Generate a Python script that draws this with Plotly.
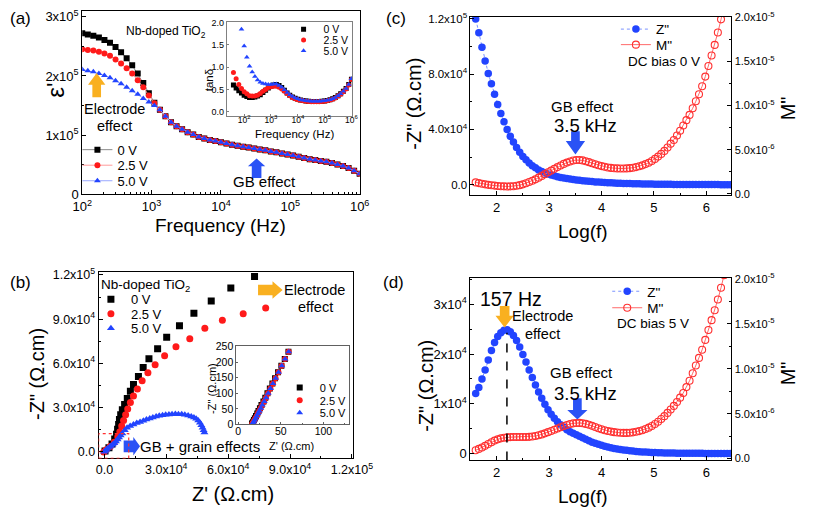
import math
import plotly.graph_objects as go

W, H = 817, 515
FONT = "Liberation Sans, Arial, sans-serif"


def X(p):
    return p / W


def Y(p):
    return 1 - p / H


# ------------------------------------------------------------------ data
# (a) epsilon' (units 1e5) vs log10(f/Hz)
A_LOGF = [2.00, 2.08, 2.16, 2.24, 2.32, 2.40, 2.48, 2.56, 2.64, 2.72, 2.80, 2.88, 2.96, 3.04, 3.12,
          3.20, 3.28, 3.36, 3.44, 3.52, 3.60, 3.68, 3.76, 3.84, 3.92, 4.00, 4.08, 4.16, 4.24, 4.32,
          4.40, 4.48, 4.56, 4.64, 4.72, 4.80, 4.88, 4.96, 5.04, 5.12, 5.20, 5.28, 5.36, 5.44, 5.52,
          5.60, 5.68, 5.76, 5.84, 5.92, 6.00]
A_TAIL = [1.32, 1.22, 1.15, 1.10, 1.05, 1.01, 0.97, 0.945, 0.92, 0.90, 0.88, 0.86, 0.84, 0.82, 0.805,
          0.79, 0.775, 0.76, 0.745, 0.725, 0.71, 0.69, 0.675, 0.655, 0.635, 0.615, 0.595, 0.58, 0.565,
          0.55, 0.53, 0.505, 0.48, 0.445, 0.40, 0.35]
A_EPS_0V = [2.72, 2.70, 2.68, 2.65, 2.61, 2.56, 2.49, 2.40, 2.30, 2.18, 2.04, 1.88, 1.71, 1.55, 1.43] + A_TAIL
A_EPS_25V = [2.45, 2.44, 2.43, 2.41, 2.38, 2.34, 2.28, 2.21, 2.13, 2.04, 1.93, 1.81, 1.67, 1.54, 1.43] + A_TAIL
A_EPS_50V = [2.11, 2.09, 2.07, 2.04, 2.01, 1.97, 1.92, 1.87, 1.81, 1.75, 1.69, 1.62, 1.56, 1.50, 1.43] + A_TAIL

# (a) inset: tan(delta) vs log10(f/Hz)
T_LOGF = [1.6, 1.7, 1.8, 1.9, 2.0, 2.1, 2.2, 2.3, 2.4, 2.5, 2.6, 2.7, 2.8, 2.9, 3.0, 3.1, 3.2, 3.3,
          3.4, 3.5, 3.6, 3.7, 3.8, 3.9, 4.0, 4.1, 4.2, 4.3, 4.4, 4.5, 4.6, 4.7, 4.8, 4.9, 5.0, 5.1,
          5.2, 5.3, 5.4, 5.5, 5.6, 5.7, 5.8, 5.9, 6.0]
T_0V = [0.60, 0.53, 0.47, 0.42, 0.37, 0.34, 0.32, 0.32, 0.33, 0.35, 0.38, 0.43, 0.48, 0.53, 0.57,
        0.60, 0.61, 0.59, 0.54, 0.48, 0.42, 0.37, 0.33, 0.30, 0.28, 0.26, 0.25, 0.24, 0.235, 0.23,
        0.23, 0.23, 0.23, 0.235, 0.24, 0.25, 0.27, 0.29, 0.32, 0.36, 0.40, 0.46, 0.52, 0.61, 0.73]
T_25V = [0.88, 0.74, 0.61, 0.52, 0.45, 0.40, 0.36, 0.35, 0.35, 0.37, 0.41, 0.46, 0.50, 0.54, 0.56,
         0.57, 0.57, 0.55, 0.51, 0.46, 0.41, 0.36, 0.32, 0.29, 0.27, 0.255, 0.245, 0.235, 0.23, 0.225,
         0.225, 0.225, 0.225, 0.23, 0.235, 0.245, 0.26, 0.28, 0.31, 0.35, 0.39, 0.45, 0.51, 0.60, 0.72]
T_50V = [None, None, None, 1.85, 1.47, 1.22, 1.02, 0.89, 0.79, 0.71, 0.66, 0.63, 0.62, 0.61, 0.61,
         0.62, 0.62, 0.59, 0.55, 0.49, 0.43, 0.38, 0.34, 0.31, 0.29, 0.27, 0.255, 0.245, 0.24, 0.235,
         0.235, 0.235, 0.235, 0.24, 0.245, 0.255, 0.27, 0.29, 0.32, 0.36, 0.40, 0.46, 0.52, 0.61, 0.74]

# (b) Nyquist plot, Z' and -Z'' in units of 1e4 ohm.cm
B_0V_X = [0.03, 0.22, 0.37, 0.50, 0.59, 0.64, 0.69, 0.73, 0.79, 0.87, 0.98, 1.11, 1.26, 1.41, 1.65,
          1.88, 2.16, 2.58, 3.02, 3.64, 4.34, 5.18, 6.13, 7.28]
B_0V_Y = [0.05, 0.26, 0.53, 0.86, 1.19, 1.52, 1.85, 2.18, 2.51, 2.84, 3.21, 3.61, 4.11, 4.57, 5.10,
          5.72, 6.31, 6.99, 7.78, 8.55, 9.41, 10.24, 11.12, 11.89]
B_25V_X = [-0.03, 0.09, 0.28, 0.48, 0.65, 0.75, 0.84, 0.93, 1.03, 1.13, 1.26, 1.41, 1.60, 1.83, 2.11,
           2.46, 2.92, 3.47, 4.14, 4.87, 5.72, 6.73, 7.82]
B_25V_Y = [-0.02, 0.13, 0.35, 0.64, 1.01, 1.36, 1.74, 2.11, 2.51, 2.90, 3.34, 3.78, 4.26, 4.81, 5.36,
           5.91, 6.51, 7.12, 7.67, 8.39, 8.92, 9.36, 9.76]
B_50V_X = [0.0, 0.05, 0.09, 0.15, 0.25, 0.33, 0.40, 0.48, 0.56, 0.64, 0.71, 0.79, 0.87, 0.99, 1.10,
           1.25, 1.41, 1.57, 1.73, 1.89, 2.04, 2.20, 2.35, 2.51, 2.66, 2.82, 2.97, 3.13, 3.28, 3.44,
           3.59, 3.75, 3.90, 4.06, 4.21, 4.34, 4.45, 4.55, 4.63, 4.70, 4.76, 4.81, 4.85]
B_50V_Y = [0.0, 0.06, 0.13, 0.21, 0.31, 0.40, 0.48, 0.58, 0.70, 0.83, 0.97, 1.10, 1.23, 1.45, 1.63,
           1.75, 1.85, 1.94, 2.02, 2.10, 2.18, 2.26, 2.33, 2.39, 2.44, 2.48, 2.51, 2.53, 2.55, 2.56,
           2.55, 2.54, 2.51, 2.46, 2.39, 2.32, 2.24, 2.11, 1.96, 1.80, 1.63, 1.46, 1.30]

# (b) inset, ohm.cm
BI_Y = [2, 5, 9, 14, 20, 27, 35, 43, 52, 62, 74, 86, 100, 115, 131, 148, 167, 188, 210, 233]
BI_0V_X = [16.4, 16.9, 17.7, 18.6, 19.7, 21.0, 22.5, 23.9, 25.6, 27.4, 29.7, 31.9, 34.4, 37.2, 40.2,
           43.3, 46.8, 50.7, 54.7, 59.0]
BI_25V_X = [16.6, 17.2, 18.1, 19.1, 20.3, 21.7, 23.2, 24.7, 26.4, 28.2, 30.5, 32.7, 35.1, 37.9, 40.8,
            43.9, 47.3, 51.1, 55.0, 59.2]
BI_50V_X = [16.8, 17.4, 18.3, 19.3, 20.5, 21.9, 23.4, 24.9, 26.6, 28.4, 30.7, 32.9, 35.3, 38.0, 40.9,
            44.0, 47.4, 51.2, 55.1, 59.3]

# (c), (d): -Z'' (units 1e4) and M'' (units 1e-6) vs log(f)
CD_LOGF = [1.60, 1.66, 1.72, 1.78, 1.84, 1.90, 1.96, 2.02, 2.08, 2.14, 2.20, 2.26, 2.32, 2.38, 2.44,
           2.50, 2.56, 2.62, 2.68, 2.74, 2.80, 2.86, 2.92, 2.98, 3.04, 3.10, 3.16, 3.22, 3.28, 3.34,
           3.40, 3.46, 3.52, 3.58, 3.64, 3.70, 3.76, 3.82, 3.88, 3.94, 4.00, 4.06, 4.12, 4.18, 4.24,
           4.30, 4.36, 4.42, 4.48, 4.54, 4.60, 4.66, 4.72, 4.78, 4.84, 4.90, 4.96, 5.02, 5.08, 5.14,
           5.20, 5.26, 5.32, 5.38, 5.44, 5.50, 5.56, 5.62, 5.68, 5.74, 5.80, 5.86, 5.92, 5.98, 6.04,
           6.10, 6.16, 6.22, 6.28, 6.34, 6.40, 6.46]
C_Z = [12.0, 11.0, 9.95, 8.95, 8.05, 7.3, 6.55, 5.8, 5.15, 4.55,
       4.0, 3.5, 3.1, 2.7, 2.35, 2.05, 1.8, 1.58, 1.38, 1.22,
       1.07, 0.95, 0.85, 0.77, 0.70, 0.64, 0.58, 0.53, 0.49, 0.45,
       0.41, 0.38, 0.35, 0.32, 0.29, 0.265, 0.245, 0.225, 0.205, 0.19,
       0.175, 0.16, 0.147, 0.135, 0.124, 0.114, 0.105, 0.096, 0.088, 0.081,
       0.074, 0.068, 0.062, 0.057, 0.052, 0.048, 0.044, 0.040, 0.037, 0.034,
       0.031, 0.028, 0.026, 0.024, 0.022, 0.020, 0.018, 0.017, 0.015, 0.014,
       0.013, 0.012, 0.011, 0.010, 0.009, 0.008, 0.008, 0.007, 0.006, 0.006,
       0.005, 0.005]
C_M = [1.28, 1.2, 1.13, 1.06, 1.0, 0.96, 0.92, 0.88, 0.85, 0.83,
       0.82, 0.83, 0.85, 0.9, 0.97, 1.06, 1.18, 1.32, 1.47, 1.63,
       1.82, 2.02, 2.22, 2.43, 2.62, 2.82, 3.02, 3.2, 3.38, 3.53,
       3.66, 3.76, 3.82, 3.83, 3.78, 3.68, 3.58, 3.46, 3.34, 3.23,
       3.13, 3.05, 2.98, 2.93, 2.89, 2.87, 2.86, 2.86, 2.87, 2.9,
       2.95, 3.02, 3.11, 3.22, 3.36, 3.52, 3.72, 3.95, 4.21, 4.52,
       4.86, 5.25, 5.68, 6.1, 6.6, 7.15, 7.75, 8.35, 8.95, 9.7,
       10.5, 11.3, 12.2, 13.3, 14.5, 15.7, 16.9, 18.3, 19.8, 21.4,
       23.0, 24.7]
D_Z = [1.21, 1.33, 1.50, 1.68, 1.88, 2.07, 2.23, 2.35, 2.43, 2.48,
       2.49, 2.45, 2.37, 2.27, 2.14, 1.99, 1.84, 1.68, 1.53, 1.38,
       1.24, 1.11, 0.99, 0.88, 0.79, 0.71, 0.64, 0.58, 0.53, 0.48,
       0.44, 0.41, 0.38, 0.35, 0.32, 0.29, 0.26, 0.23, 0.21, 0.19,
       0.17, 0.15, 0.135, 0.12, 0.105, 0.093, 0.083, 0.074, 0.066, 0.058,
       0.051, 0.045, 0.040, 0.035, 0.031, 0.027, 0.024, 0.021, 0.019, 0.017,
       0.015, 0.013, 0.012, 0.011, 0.010, 0.009, 0.008, 0.007, 0.007, 0.006,
       0.006, 0.005, 0.005, 0.004, 0.004, 0.004, 0.003, 0.003, 0.003, 0.003,
       0.002, 0.002]
D_M = [0.93, 1.08, 1.24, 1.42, 1.62, 1.82, 2.0, 2.14, 2.25, 2.32,
       2.36, 2.39, 2.4, 2.41, 2.41, 2.41, 2.41, 2.42, 2.45, 2.51,
       2.59, 2.69, 2.81, 2.94, 3.07, 3.21, 3.35, 3.49, 3.62, 3.74,
       3.85, 3.92, 3.96, 3.97, 3.93, 3.86, 3.76, 3.64, 3.51, 3.38,
       3.26, 3.16, 3.07, 3.0, 2.94, 2.9, 2.87, 2.86, 2.86, 2.88,
       2.92, 2.98, 3.06, 3.16, 3.29, 3.44, 3.62, 3.84, 4.1, 4.4,
       4.72, 5.08, 5.46, 5.86, 6.3, 6.78, 7.3, 7.95, 8.65, 9.5,
       10.35, 11.2, 12.1, 13.2, 14.3, 15.4, 16.5, 17.7, 19.0, 20.4,
       21.9, 23.4]
D_PEAK_HZ = 157

SERIES = ["0 V", "2.5 V", "5.0 V"]

# ------------------------------------------------------------------ style
BLACK, RED, BLUE = "#000000", "#FF1A1A", "#2244FF"
ORANGE, ABLUE = "#F9B020", "#2A52F5"
SYM = ["square", "circle", "triangle-up"]
COL = [BLACK, RED, BLUE]
LCOL = ["#8a8a8a", "#FF9a9a", "#9aa8ff"]


def sc(vals, k):
    return [None if v is None else v * k for v in vals]


def f_of(logs):
    return [10 ** v for v in logs]


fig = go.Figure()

legends = {}
lid = [0]


def new_legend(xsym, ycen, size):
    # xsym: pixel x of the legend symbol centre, ycen: pixel y of the entry centre
    lid[0] += 1
    name = "legend" if lid[0] == 1 else "legend%d" % lid[0]
    legends[name] = dict(x=X(xsym - 22), y=Y(ycen), xanchor="left", yanchor="middle",
                         bgcolor="rgba(0,0,0,0)", borderwidth=0, itemwidth=30,
                         font=dict(family=FONT, size=size, color="black"),
                         itemclick=False, itemdoubleclick=False)
    return name


# (a) main
fa = f_of(A_LOGF)
for i, ys in enumerate([A_EPS_0V, A_EPS_25V, A_EPS_50V]):
    fig.add_trace(go.Scatter(
        x=fa, y=sc(ys, 1e5), xaxis="x", yaxis="y", mode="lines+markers", name=SERIES[i],
        marker=dict(symbol=SYM[i], size=6, color=COL[i], line=dict(width=0)),
        line=dict(color=LCOL[i], width=1),
        legend=new_legend(92, [147, 163, 179][i], 13)))

# (a) inset
ft = f_of(T_LOGF)
for i, ys in enumerate([T_0V, T_25V, T_50V]):
    fig.add_trace(go.Scatter(
        x=ft, y=ys, xaxis="x2", yaxis="y2", mode="markers", name=SERIES[i],
        marker=dict(symbol=SYM[i], size=5, color=COL[i], line=dict(width=0)),
        legend=new_legend(306, [23, 34, 45][i], 10.5)))

# (b) main
for i, (xs, ys) in enumerate([(B_0V_X, B_0V_Y), (B_25V_X, B_25V_Y), (B_50V_X, B_50V_Y)]):
    fig.add_trace(go.Scatter(
        x=sc(xs, 1e4), y=sc(ys, 1e4), xaxis="x3", yaxis="y3", mode="markers", name=SERIES[i],
        marker=dict(symbol=SYM[i], size=7, color=COL[i], line=dict(width=0)),
        legend=new_legend(106, [301, 316, 331][i], 13)))

# (b) inset
for i, xs in enumerate([BI_0V_X, BI_25V_X, BI_50V_X]):
    fig.add_trace(go.Scatter(
        x=xs, y=BI_Y, xaxis="x4", yaxis="y4", mode="markers", name=SERIES[i],
        marker=dict(symbol=SYM[i], size=6, color=COL[i], line=dict(width=0)),
        legend=new_legend(302, [392, 405, 418][i], 11)))

# (c), (d)
for (zs, ms, xa, ya, yb, ly, xsym) in [(C_Z, C_M, "x5", "y5", "y6", (23, 39), 651),
                                        (D_Z, D_M, "x6", "y7", "y8", (293, 310), 642)]:
    fig.add_trace(go.Scatter(
        x=CD_LOGF, y=sc(zs, 1e4), xaxis=xa, yaxis=ya, mode="lines+markers", name='Z"',
        marker=dict(symbol="circle", size=7.5, color=BLUE, line=dict(width=0)),
        line=dict(color="#7b93ff", width=1, dash="dot"),
        legend=new_legend(xsym, ly[0], 13.5)))
    fig.add_trace(go.Scatter(
        x=CD_LOGF, y=sc(ms, 1e-6), xaxis=xa, yaxis=yb, mode="lines+markers", name='M"',
        marker=dict(symbol="circle-open", size=7, color="#FF3030", line=dict(width=1.1)),
        line=dict(color="#FF6a6a", width=1),
        legend=new_legend(xsym, ly[1], 13.5)))


# ------------------------------------------------------------------ axes
def ax(domain, rng, size=13, lc="black", **kw):
    d = dict(domain=domain, range=rng, showline=True, linecolor=lc, linewidth=1,
             ticks="inside", ticklen=4, tickwidth=1, tickcolor=lc, showgrid=False,
             zeroline=False, tickfont=dict(family=FONT, size=size, color="black"))
    d.update(kw)
    return d


def sup(m, e):
    return "%sx10<sup>%s</sup>" % (m, e)


DEC = [1e2, 1e3, 1e4, 1e5, 1e6]
DEC_T = ["10<sup>%d</sup>" % n for n in range(2, 7)]
MINOR_LOG = [k * 10 ** n for n in range(1, 6) for k in range(2, 10)]
ZT = ["0.0", sup("3.0", 4), sup("6.0", 4), sup("9.0", 4), sup("1.2", 5)]
MT = ["0.0", sup("5.0", -6), sup("1.0", -5), sup("1.5", -5), sup("2.0", -5)]

layout = dict(
    width=W, height=H, margin=dict(l=0, r=0, t=0, b=0),
    paper_bgcolor="white", plot_bgcolor="white", showlegend=True,
    font=dict(family=FONT, color="black"),
    # (a)
    xaxis=ax([X(75), X(363)], [2, 6], type="log", tickmode="array", tickvals=DEC, ticktext=DEC_T,
             anchor="y", mirror=True,
             minor=dict(ticks="inside", ticklen=2, tickmode="array", tickvals=MINOR_LOG)),
    yaxis=ax([Y(193), Y(4)], [0, 3.1e5], tickmode="array", tickvals=[0, 1e5, 2e5, 3e5],
             ticktext=["0", sup(1, 5), sup(2, 5), sup(3, 5)], anchor="x", mirror=True,
             minor=dict(ticks="inside", ticklen=2, tickmode="linear", tick0=0, dtick=5e4)),
    # (a) inset
    xaxis2=ax([X(225), X(355)], [1.35, 6.02], size=8.5, lc="#808080", type="log", tickmode="array",
              tickvals=DEC, ticktext=DEC_T, anchor="y2", mirror=True, ticklen=2,
              ticklabelstandoff=-4),
    yaxis2=ax([Y(112), Y(15)], [-0.09, 2.02], size=9, lc="#808080", tickmode="array",
              tickvals=[0, 0.5, 1, 1.5, 2], ticktext=["0.0", "0.5", "1.0", "1.5", "2.0"],
              anchor="x2", mirror=True, ticklen=2),
    # (b)
    xaxis3=ax([X(92), X(356)], [-2800, 120500], size=12.5, tickmode="array",
              tickvals=[0, 3e4, 6e4, 9e4, 1.2e5], ticktext=ZT, anchor="y3", mirror=True,
              minor=dict(ticks="inside", ticklen=2, tickmode="linear", tick0=0, dtick=1.5e4)),
    yaxis3=ax([Y(465), Y(273)], [-4600, 122000], size=12.5, tickmode="array",
              tickvals=[0, 3e4, 6e4, 9e4, 1.2e5], ticktext=ZT, anchor="x3", mirror=True,
              minor=dict(ticks="inside", ticklen=2, tickmode="linear", tick0=0, dtick=1.5e4)),
    # (b) inset
    xaxis4=ax([X(235), X(352)], [-2, 130], size=10.5, lc="#606060", tickmode="array",
              tickvals=[0, 50, 100], anchor="y4", mirror=True, ticklen=2, ticklabelstandoff=-3,
              minor=dict(ticks="inside", ticklen=1.5, tickmode="linear", tick0=0, dtick=25)),
    yaxis4=ax([Y(430), Y(349)], [0, 252], size=10.5, lc="#606060", tickmode="array",
              tickvals=[0, 50, 100, 150, 200, 250], anchor="x4", mirror=True, ticklen=2),
    # (c)
    xaxis5=ax([X(478), X(749)], [1.5, 6.48], tickmode="array", tickvals=[2, 3, 4, 5, 6],
              anchor="y5", mirror=True,
              minor=dict(ticks="inside", ticklen=2, tickmode="linear", tick0=0, dtick=0.5)),
    yaxis5=ax([Y(194), Y(10)], [-7700, 121600], size=11.5, tickmode="array",
              tickvals=[0, 4e4, 8e4, 1.2e5],
              ticktext=["0.0", sup("4.0", 4), sup("8.0", 4), sup("1.2", 5)], anchor="x5",
              minor=dict(ticks="inside", ticklen=2, tickmode="linear", tick0=0, dtick=2e4)),
    yaxis6=ax([Y(194), Y(10)], [-0.19e-6, 20.1e-6], size=11, tickmode="array",
              tickvals=[0, 5e-6, 1e-5, 1.5e-5, 2e-5], ticktext=MT,
              overlaying="y5", side="right", anchor="x5",
              minor=dict(ticks="inside", ticklen=2, tickmode="linear", tick0=0, dtick=2.5e-6)),
    # (d)
    xaxis6=ax([X(478), X(749)], [1.5, 6.48], tickmode="array", tickvals=[2, 3, 4, 5, 6],
              anchor="y7", mirror=True,
              minor=dict(ticks="inside", ticklen=2, tickmode="linear", tick0=0, dtick=0.5)),
    yaxis7=ax([Y(467), Y(279)], [-1360, 35300], size=13, tickmode="array",
              tickvals=[0, 1e4, 2e4, 3e4], ticktext=["0", sup(1, 4), sup(2, 4), sup(3, 4)],
              anchor="x6",
              minor=dict(ticks="inside", ticklen=2, tickmode="linear", tick0=0, dtick=5e3)),
    yaxis8=ax([Y(467), Y(279)], [-0.2e-6, 20.1e-6], size=11, tickmode="array",
              tickvals=[0, 5e-6, 1e-5, 1.5e-5, 2e-5], ticktext=MT,
              overlaying="y7", side="right", anchor="x6",
              minor=dict(ticks="inside", ticklen=2, tickmode="linear", tick0=0, dtick=2.5e-6)),
)
layout.update(legends)


# ------------------------------------------------------------------ text
def txt(s, x, y, size, angle=0, xanchor="center", color="black"):
    return dict(text=s, x=X(x), y=Y(y), xref="paper", yref="paper", showarrow=False,
                xanchor=xanchor, yanchor="middle", textangle=angle,
                font=dict(family=FONT, size=size, color=color))


ann = [
    txt("(a)", 11, 12, 17), txt("(b)", 11, 284, 17), txt("(c)", 401, 12, 17), txt("(d)", 398, 284, 17),
    # axis titles
    txt("ε'", 47, 86, 24, -90), txt("Frequency (Hz)", 219, 225, 19),
    txt("tanδ", 206, 75, 11.5, -90), txt("Frequency (Hz)", 295, 131, 11.5),
    txt('-Z" (Ω.cm)', 28, 378, 20, -90), txt("Z' (Ω.cm)", 231, 502, 20),
    txt('-Z" (Ω.cm)', 209, 393, 11, -90), txt("Z' (Ω.cm)", 292, 452, 11),
    txt('-Z" (Ω.cm)', 419, 100, 20, -90), txt('M"', 808, 104, 20, -90), txt("Log(f)", 595, 231, 19),
    txt('-Z" (Ω.cm)', 431, 390, 20, -90), txt('M"', 808, 377, 20, -90), txt("Log(f)", 595, 504, 19),
    # panel texts
    txt("Nb-doped TiO<sub>2</sub>", 118, 26, 12, xanchor="left"),
    txt("Electrode", 108, 105, 14.5), txt("effect", 109, 123, 14.5),
    txt("GB effect", 264, 180, 15),
    txt("Nb-doped TiO<sub>2</sub>", 92, 287, 13.5, xanchor="left"),
    txt("Electrode", 316, 291, 14.5), txt("effect", 317, 309, 14.5),
    txt("GB + grain effects", 133, 453, 15, xanchor="left"),
    txt("GB effect", 594, 102, 15), txt("3.5 kHz", 597, 122, 18.5),
    txt("DC bias 0 V", 640, 56, 13.5, xanchor="left"),
    txt("157 Hz", 520, 301, 19.5), txt("Electrode", 553, 318, 14.5), txt("effect", 553, 337, 14.5),
    txt("GB effect", 593, 376, 15), txt("3.5 kHz", 597, 398, 18.5),
    txt("DC bias 5 V", 628, 326, 13.5, xanchor="left"),
]
layout["annotations"] = ann


# ------------------------------------------------------------------ shapes
def poly(pts, color):
    d = "M " + " L ".join("%.5f,%.5f" % (X(a), Y(b)) for a, b in pts) + " Z"
    return dict(type="path", path=d, xref="paper", yref="paper", fillcolor=color,
                line=dict(width=0), layer="above")


def arrow_up(tip, hw, sw, hh, sh, color):
    tx, ty = tip
    return poly([(tx, ty), (tx + hw, ty + hh), (tx + sw, ty + hh), (tx + sw, ty + hh + sh),
                 (tx - sw, ty + hh + sh), (tx - sw, ty + hh), (tx - hw, ty + hh)], color)


def arrow_down(tip, hw, sw, hh, sh, color):
    tx, ty = tip
    return poly([(tx, ty), (tx + hw, ty - hh), (tx + sw, ty - hh), (tx + sw, ty - hh - sh),
                 (tx - sw, ty - hh - sh), (tx - sw, ty - hh), (tx - hw, ty - hh)], color)


def arrow_right(tip, hw, sw, hl, sl, color):
    tx, ty = tip
    return poly([(tx, ty), (tx - hl, ty - hw), (tx - hl, ty - sw), (tx - hl - sl, ty - sw),
                 (tx - hl - sl, ty + sw), (tx - hl, ty + sw), (tx - hl, ty + hw)], color)


band_lo, band_hi = 2.36, 4.07   # shaded frequency window (log10 Hz) in the inset
xr2 = layout["xaxis2"]["range"]
shapes = [
    dict(type="rect", xref="x2 domain", yref="y2 domain",
         x0=(band_lo - xr2[0]) / (xr2[1] - xr2[0]), x1=(band_hi - xr2[0]) / (xr2[1] - xr2[0]),
         y0=0.03, y1=0.97, fillcolor="#F6F6B4", line=dict(width=0), layer="below"),
    arrow_up((90, 68), 9, 4.5, 12, 13, ORANGE),
    arrow_up((256, 156), 9, 5, 8, 12, ABLUE),
    arrow_right((283, 291.5), 9, 5.5, 10.5, 15, ORANGE),
    arrow_right((135, 452.5), 9.5, 6, 7, 10, ABLUE),
    arrow_down((587, 152), 10, 4.5, 14, 10, ABLUE),
    arrow_down((513.5, 330), 9.5, 5, 12, 10, ORANGE),
    arrow_down((589, 425), 10.5, 4.5, 10, 12, ABLUE),
    dict(type="rect", xref="x3", yref="y3", x0=-2800, x1=11800, y0=-4600, y1=12300,
         line=dict(color="#FF3030", width=1.2, dash="dot"), fillcolor="rgba(0,0,0,0)"),
]
pk = math.log10(D_PEAK_HZ)
shapes.append(dict(type="line", xref="x6", yref="y7", x0=pk, x1=pk, y0=-1360, y1=24300,
                   line=dict(color="black", width=1.5, dash="dash")))
layout["shapes"] = shapes

fig.update_layout(**layout)
fig.write_html("out.html", config={"displayModeBar": False},
               post_script="document.body.style.margin='0px';")
